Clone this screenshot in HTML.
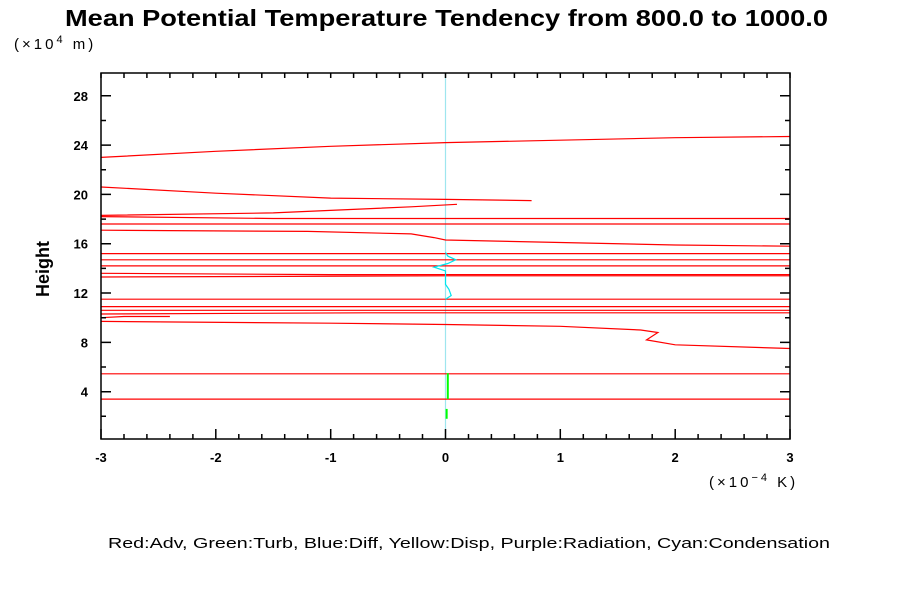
<!DOCTYPE html>
<html><head><meta charset="utf-8"><style>
body{margin:0;background:#fff;}
svg{display:block;font-family:"Liberation Sans",sans-serif;}
</style></head><body>
<svg id="chart" width="900" height="600" viewBox="0 0 900 600">
<rect width="900" height="600" fill="#fff"/>
<text x="65" y="26" font-size="23" font-weight="bold" textLength="763" lengthAdjust="spacingAndGlyphs">Mean Potential Temperature Tendency from 800.0 to 1000.0</text>
<text x="14" y="49" font-size="15" letter-spacing="3">(×10<tspan dy="-6" font-size="11">4</tspan><tspan dy="6"> m)</tspan></text>
<text x="0" y="0" transform="translate(49,269) rotate(-90)" text-anchor="middle" font-size="18" font-weight="bold">Height</text>
<text x="709" y="487" font-size="15" letter-spacing="3">(×10<tspan dy="-6" font-size="11">−4</tspan><tspan dy="6"> K)</tspan></text>
<text x="108" y="548" font-size="15" textLength="722" lengthAdjust="spacingAndGlyphs">Red:Adv, Green:Turb, Blue:Diff, Yellow:Disp, Purple:Radiation, Cyan:Condensation</text>
<g id="marks"></g>
<g id="axes"></g>
</svg>
<script>
const xTicks=[-3,-2,-1,0,1,2,3];
const yTicks=[4,8,12,16,20,24,28];
// red advection contour lines: x values and y values per line
const redX=[
[-3,-2,-1,0,1,2,3],
[-3,-2,-1,0,0.75],
[-3,-1.5,-0.3,0.1],
[-3,-1.5,3],
[-3,3],
[-3,-1.2,-0.3,-0.1,0,1,2,3],
[-3,3],[-3,3],[-3,3],[-3,-1,3],[-3,0,3],[-3,3],[-3,3],[-3,3],[-3,-0.7,3],
[-3,-2.8,-2.4],
[-3,-1,0,1,1.7,1.85,1.75,2,3],
[-3,3],[-3,3]
];
const redY=[
[23.0,23.5,23.9,24.2,24.4,24.6,24.7],
[20.6,20.1,19.7,19.6,19.5],
[18.3,18.5,19.0,19.2],
[18.2,18.05,18.05],
[17.6,17.6],
[17.1,17.0,16.8,16.5,16.3,16.1,15.9,15.8],
[15.2,15.2],[14.7,14.7],[14.2,14.2],[13.6,13.5,13.5],[13.3,13.4,13.4],[11.5,11.5],[10.9,10.9],[10.6,10.6],[10.3,10.4,10.4],
[10.0,10.1,10.1],
[9.7,9.55,9.45,9.3,9.0,8.8,8.2,7.8,7.5],
[5.45,5.45],[3.4,3.4]
];
const cyanX=[0,0.02,0.09,0.02,-0.1,0,0,0,0.03,0.05,0];
const cyanY=[15.3,15.0,14.7,14.4,14.1,13.8,13.4,12.7,12.3,11.8,11.5];
const greenX=[0.02,0.01];
const greenY=[[5.5,3.4],[2.6,1.8]];
const x0=101,x1=790,y0=439,y1=73,xmin=-3,xmax=3,ymin=0.16,ymax=29.85;
function sx(v){return x0+(v-xmin)/(xmax-xmin)*(x1-x0);}
function sy(v){return y0-(v-ymin)/(ymax-ymin)*(y0-y1);}
const NS='http://www.w3.org/2000/svg';
const marks=document.getElementById('marks'),axes=document.getElementById('axes');
function mk(tag,attrs,parent){const e=document.createElementNS(NS,tag);for(const k in attrs)e.setAttribute(k,attrs[k]);parent.appendChild(e);return e;}
function stepPath(xs,ys){let d='';for(let i=0;i<xs.length;i++){d+=(i?'L':'M')+sx(xs[i]).toFixed(1)+','+sy(ys[i]).toFixed(1);}return d;}
const zl=mk('line',{x1:sx(0),x2:sx(0),y1:y1,y2:y0,stroke:'#9ee6ee','stroke-width':1.2},marks);


redX.forEach((xs,i)=>{
 const p=mk('path',{d:stepPath(xs,redY[i]),fill:'none',stroke:'#f00','stroke-width':1.2},marks);
 
 
});
const cp=mk('path',{d:stepPath(cyanX,cyanY),fill:'none',stroke:'#00e5ee','stroke-width':1.2},marks);


greenY.forEach((ys,i)=>{
 const g=mk('line',{x1:sx(greenX[i]),x2:sx(greenX[i]),y1:sy(ys[0]),y2:sy(ys[1]),stroke:'#0f0','stroke-width':2},marks);
 
 
});
const fr=mk('rect',{x:x0,y:y1,width:x1-x0,height:y0-y1,fill:'none',stroke:'#000','stroke-width':1.5},axes);


let d='';
for(let k=0;k<=30;k++){const v=xmin+k*0.2;const X=sx(v).toFixed(1);const maj=k%5===0;d+='M'+X+','+y0+'v'+(maj?-10:-5);d+='M'+X+','+y1+'v5';}
for(let v=2;v<=28;v+=2){const Y=sy(v).toFixed(1);const maj=v%4===0;const L=maj?10:5;d+='M'+x0+','+Y+'h'+L;d+='M'+x1+','+Y+'h'+(-L);}
const tk=mk('path',{d:d,stroke:'#000','stroke-width':1.5,fill:'none'},axes);


xTicks.forEach(v=>{
 const t=mk('text',{x:sx(v),y:462,'text-anchor':'middle','font-size':13,'font-weight':'bold'},axes);
 t.textContent=String(v);
 
 
});
yTicks.forEach(v=>{
 const t=mk('text',{x:88,y:sy(v)+5,'text-anchor':'end','font-size':13,'font-weight':'bold'},axes);
 t.textContent=String(v);
 
 
});
</script>
</body></html>
